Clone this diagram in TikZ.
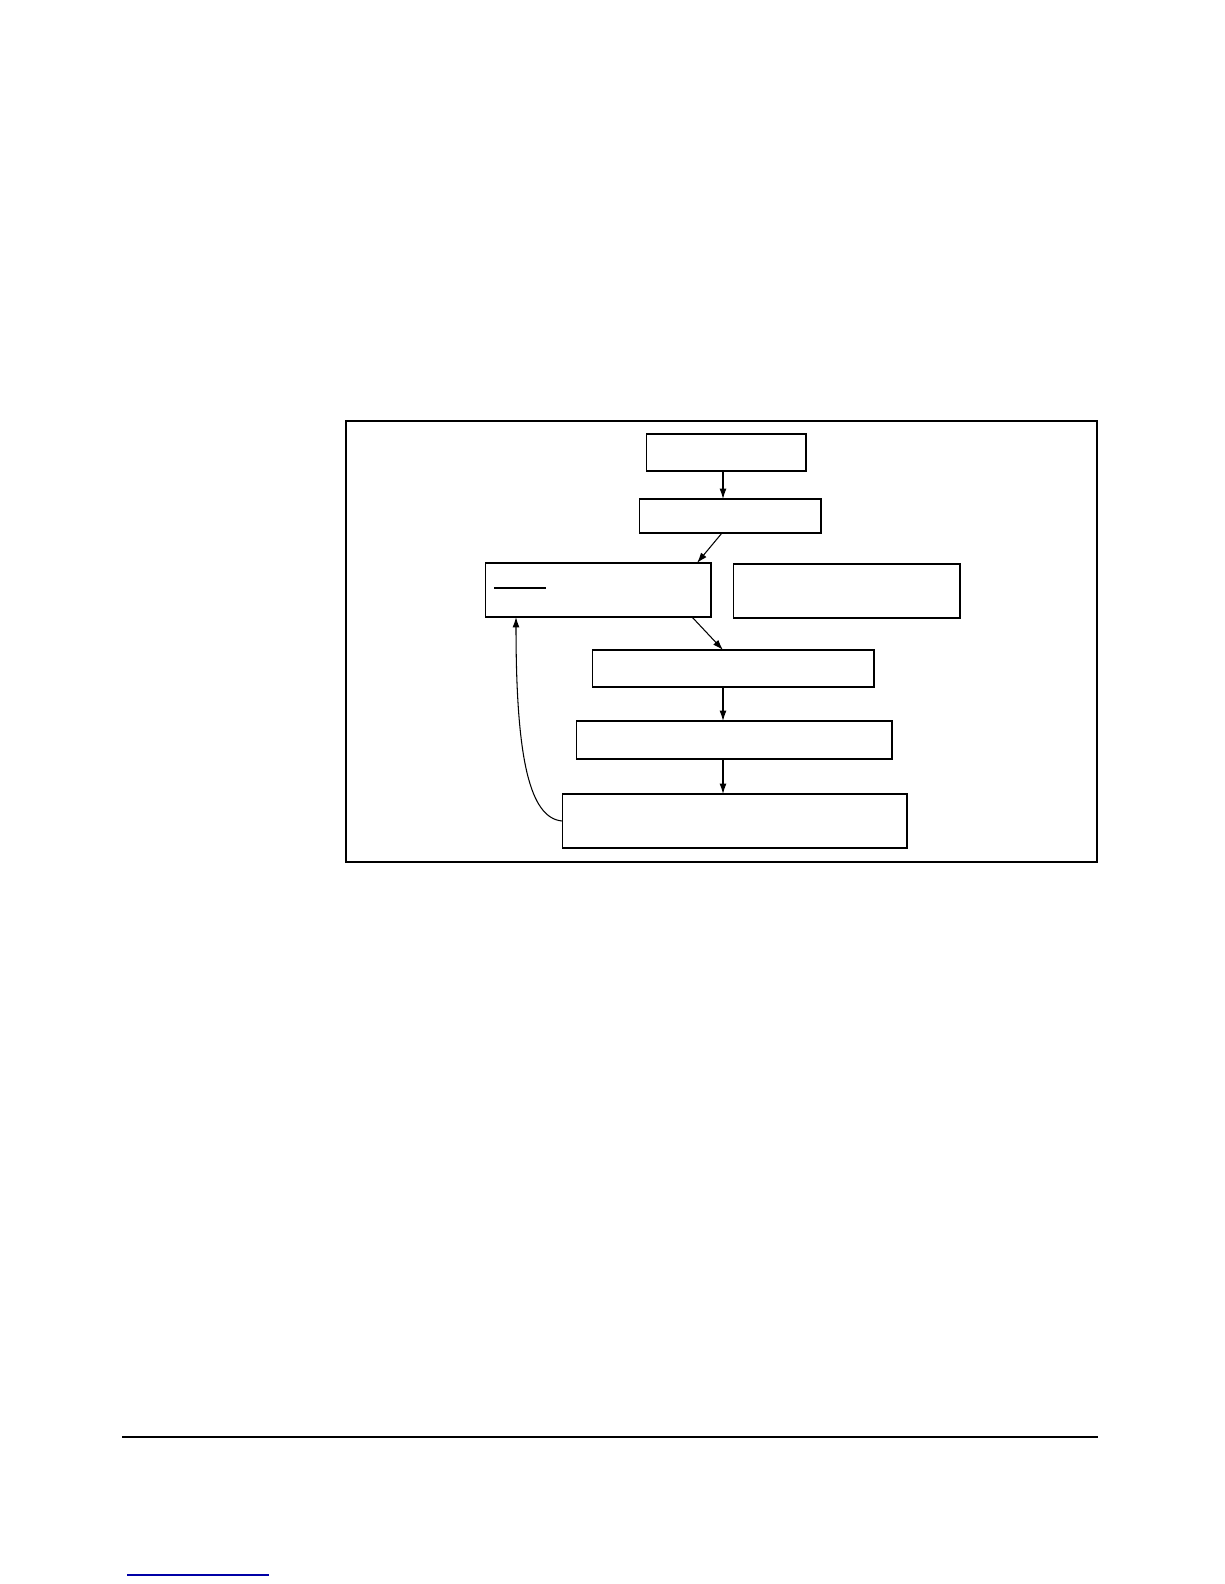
\documentclass[tikz,border=0pt]{standalone}
\usetikzlibrary{arrows.meta}
\tikzset{
  box/.style={draw, line width=0.6pt, inner sep=0pt, outer sep=0pt},
  arr/.style={-{Latex[length=0.21cm,width=0.14cm]}, line width=0.6pt}
}
\begin{document}
\begin{tikzpicture}[x=0.02cm, y=-0.02cm]
         \useasboundingbox (0,0) rectangle (1224,1584);
         %cornice
         \draw[line width=1.5pt] (346,421) rectangle (1097,862);
         %blocchi
         \node[box, minimum width=3.2cm, minimum height=0.74cm] (b1) at (726,452.5) {};
         \node[box, minimum width=3.64cm, minimum height=0.68cm] (b2) at (730,516) {};
         \node[box, minimum width=4.52cm, minimum height=1.08cm] (b3) at (598,590) {};
         \node[box, minimum width=4.54cm, minimum height=1.08cm] (b4) at (846.5,591) {};
         \node[box, minimum width=5.64cm, minimum height=0.74cm] (b5) at (733,668.5) {};
         \node[box, minimum width=6.32cm, minimum height=0.76cm] (b6) at (734,740) {};
         \node[box, minimum width=6.9cm, minimum height=1.08cm] (b7) at (734.5,821) {};
         \draw[line width=0.6pt] (494,588) -- (546,588);
         %frecce
         \coordinate (ax) at (723,0);
         \draw[arr] (b1.south -| ax) -- (b2.north -| ax);
         \draw[arr] (b2.south -| 722,0) -- (b3.north -| 697,0);
         \draw[arr] (b3.south -| 692,0) -- (b5.north -| ax);
         \draw[arr] (b5.south -| ax) -- (b6.north -| ax);
         \draw[arr] (b6.south -| ax) -- (b7.north -| ax);
         \draw[arr] (b7.west) .. controls (530,818) and (516,760) .. (b3.south -| 516,0);
         %pie di pagina
         \draw[line width=0.75pt] (122,1437) -- (1098,1437);
         \draw[line width=0.6pt, blue!65!black] (127,1575) -- (269,1575);
      \end{tikzpicture}
\end{document}
